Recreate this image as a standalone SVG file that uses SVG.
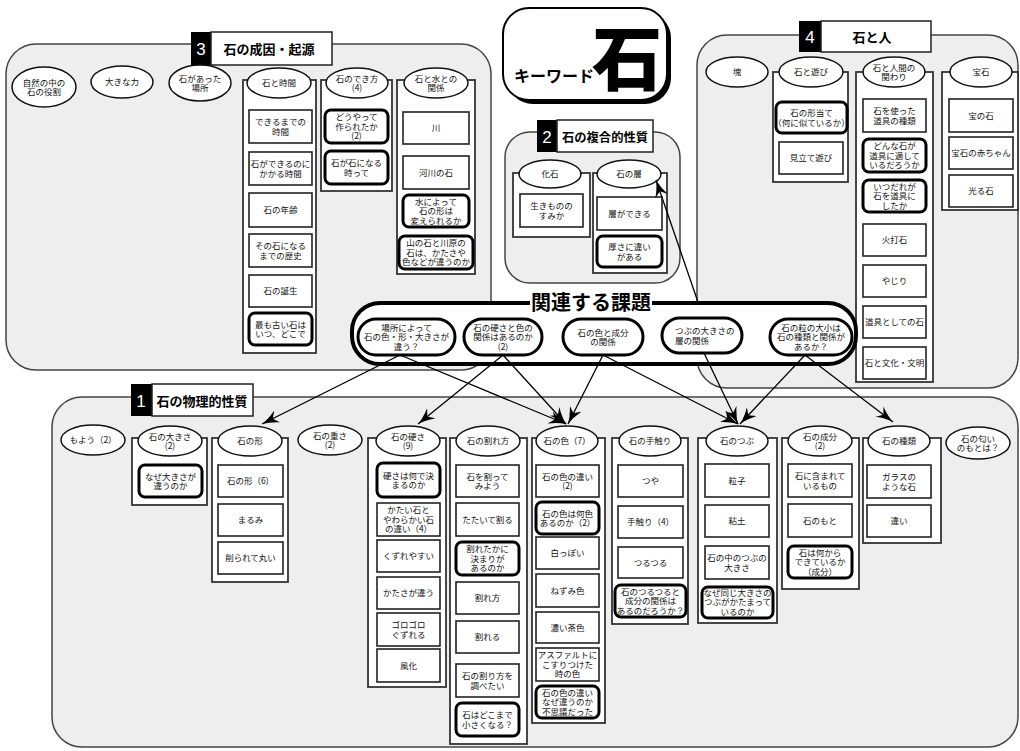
<svg xmlns="http://www.w3.org/2000/svg" width="1020" height="751" viewBox="0 0 1020 751">
<style>
.panel{fill:#eeeeee;stroke:#444;stroke-width:1.5}
.col{fill:#fff;stroke:#333;stroke-width:1.8}
.box{fill:#fff;stroke:#222;stroke-width:1.6}
.tbox{fill:#fff;stroke:#000;stroke-width:3}
.hd{fill:#fff;stroke:#111;stroke-width:1.5}
.ov{fill:#fff;stroke:#000;stroke-width:3}
.t{font-family:"Noto Sans CJK JP","Noto Sans",sans-serif;font-size:8.5px;text-anchor:middle;fill:#111}
.tl{font-family:"Noto Sans CJK JP","Noto Sans",sans-serif;font-size:8.5px;text-anchor:start;fill:#111}
.tabk{fill:#000}
.tabw{fill:#fff;stroke:#222;stroke-width:1.5}
.num{font-family:"Liberation Sans",sans-serif;font-size:17px;fill:#fff;text-anchor:middle}
.ttl{font-family:"Noto Sans CJK JP",sans-serif;font-size:13px;font-weight:bold;text-anchor:middle;fill:#000}
.conn{stroke:#000;stroke-width:1.3;fill:none;marker-end:url(#arr)}
</style>
<defs>
<marker id="arr" markerUnits="userSpaceOnUse" markerWidth="20" markerHeight="14" refX="17" refY="6.5" orient="auto">
<path d="M0,0 Q9,5 17,6.5 Q9,8 0,13 L5,6.5 Z" fill="#000"/>
</marker>
</defs>

<!-- Keyword -->
<g id="keyword">
<rect x="507" y="12" width="164" height="92" rx="26" fill="#000"/>
<rect x="503" y="8" width="164" height="92" rx="26" fill="#fff" stroke="#000" stroke-width="2"/>
<text x="514" y="82" font-family="Noto Sans CJK JP,sans-serif" font-size="16" font-weight="bold" fill="#000">キーワード</text>
<text x="592" y="85" font-family="Noto Sans CJK JP,sans-serif" font-size="70" font-weight="900" fill="#000">石</text>
</g>

<!-- Section 3 -->
<g id="sec3">
<rect class="panel" x="6" y="44" width="485" height="326" rx="30"/>
<rect class="tabk" x="191" y="32" width="20" height="33"/>
<rect class="tabw" x="211" y="32" width="121" height="33"/>
<text class="num" x="201" y="55">3</text>
<text class="ttl" x="269" y="54">石の成因・起源</text>
</g>
<g id="n3a"><ellipse class="hd" cx="44" cy="87" rx="32" ry="20"/><text class="t" x="44" y="85.5"><tspan x="44">自然の中の</tspan><tspan x="44" dy="9.5">石の役割</tspan></text></g>
<g id="n3b"><ellipse class="hd" cx="122" cy="82" rx="31" ry="16"/><text class="t" x="122" y="85">大きな力</text></g>
<g id="n3c"><ellipse class="hd" cx="200" cy="83" rx="31" ry="18"/><text class="t" x="200" y="81.5"><tspan x="200">石があった</tspan><tspan x="200" dy="9.5">場所</tspan></text></g>

<g id="c3time">
<rect class="col" x="243" y="80" width="73" height="273"/>
<ellipse class="hd" cx="279" cy="83" rx="32" ry="15"/><text class="t" x="279" y="86">石と時間</text>
<rect class="box" x="249" y="110" width="63" height="33"/><text class="t" x="280.5" y="125"><tspan x="280.5">できるまでの</tspan><tspan x="280.5" dy="9.5">時間</tspan></text>
<rect class="box" x="249" y="152" width="63" height="33"/><text class="t" x="280.5" y="167"><tspan x="280.5">石ができるのに</tspan><tspan x="280.5" dy="9.5">かかる時間</tspan></text>
<rect class="box" x="249" y="193" width="63" height="34"/><text class="t" x="280.5" y="213">石の年齢</text>
<rect class="box" x="249" y="234" width="63" height="33"/><text class="t" x="280.5" y="249"><tspan x="280.5">その石になる</tspan><tspan x="280.5" dy="9.5">までの歴史</tspan></text>
<rect class="box" x="249" y="275" width="63" height="32"/><text class="t" x="280.5" y="294">石の誕生</text>
<rect class="tbox" x="249" y="313" width="63" height="32" rx="6"/><text class="t" x="280.5" y="327.5"><tspan x="280.5">最も古い石は</tspan><tspan x="280.5" dy="9.5">いつ、どこで</tspan></text>
</g>
<g id="c3make">
<rect class="col" x="321" y="80" width="71" height="111"/>
<ellipse class="hd" cx="357" cy="83" rx="31" ry="15"/><text class="t" x="357" y="81.5"><tspan x="357">石のでき方</tspan><tspan x="357" dy="9.5">(4)</tspan></text>
<rect class="tbox" x="325" y="110" width="63" height="33" rx="6"/><text class="t" x="356.5" y="120.2"><tspan x="356.5">どうやって</tspan><tspan x="356.5" dy="9.5">作られたか</tspan><tspan x="356.5" dy="9.5">(2)</tspan></text>
<rect class="tbox" x="325" y="151" width="63" height="33" rx="6"/><text class="t" x="356.5" y="166"><tspan x="356.5">石が石になる</tspan><tspan x="356.5" dy="9.5">時って</tspan></text>
</g>
<g id="c3water">
<rect class="col" x="397" y="80" width="78" height="194"/>
<ellipse class="hd" cx="436" cy="83" rx="32" ry="15"/><text class="t" x="436" y="81.5"><tspan x="436">石と水との</tspan><tspan x="436" dy="9.5">関係</tspan></text>
<rect class="box" x="403" y="112" width="66" height="32"/><text class="t" x="436" y="131">川</text>
<rect class="box" x="403" y="156" width="66" height="33"/><text class="t" x="436" y="175.5">河川の石</text>
<rect class="tbox" x="403" y="195" width="66" height="32" rx="6"/><text class="t" x="436" y="204.7"><tspan x="436">水によって</tspan><tspan x="436" dy="9.5">石の形は</tspan><tspan x="436" dy="9.5">変えられるか</tspan></text>
<rect class="tbox" x="399" y="236" width="74" height="33" rx="6"/><text class="t" x="436" y="246.2"><tspan x="436">山の石と川原の</tspan><tspan x="436" dy="9.5">石は、かたさや</tspan><tspan x="436" dy="9.5">色などが違うのか</tspan></text>
</g>

<!-- Section 2 -->
<g id="sec2">
<rect class="panel" x="505" y="132" width="175" height="151" rx="25"/>
<rect class="tabk" x="537" y="120" width="20" height="32"/>
<rect class="tabw" x="557" y="120" width="96" height="32"/>
<text class="num" x="547" y="143">2</text>
<text class="ttl" x="605" y="141.5" style="font-size:12.3px">石の複合的性質</text>
</g>
<g id="c2fossil">
<rect class="col" x="513" y="173" width="77" height="64"/>
<ellipse class="hd" cx="550" cy="174" rx="31" ry="14"/><text class="t" x="550" y="177">化石</text>
<rect class="box" x="520" y="194" width="63" height="33"/><text class="t" x="551.5" y="209"><tspan x="551.5">生きものの</tspan><tspan x="551.5" dy="9.5">すみか</tspan></text>
</g>
<g id="c2layer">
<rect class="col" x="593" y="173" width="74" height="100"/>
<ellipse class="hd" cx="629" cy="174" rx="32" ry="14"/><text class="t" x="629" y="177">石の層</text>
<rect class="box" x="597" y="197" width="65" height="33"/><text class="t" x="629.5" y="216.5">層ができる</text>
<rect class="tbox" x="597" y="236" width="65" height="31" rx="6"/><text class="t" x="629.5" y="250"><tspan x="629.5">厚さに違い</tspan><tspan x="629.5" dy="9.5">がある</tspan></text>
</g>

<!-- Section 4 -->
<g id="sec4">
<rect class="panel" x="697" y="35" width="321" height="353" rx="30"/>
<rect class="tabk" x="799" y="21" width="22" height="31"/>
<rect class="tabw" x="821" y="21" width="110" height="31"/>
<text class="num" x="810" y="43">4</text>
<text class="ttl" x="872" y="42">石と人</text>
</g>
<g id="n4mass"><ellipse class="hd" cx="737" cy="72" rx="31" ry="15"/><text class="t" x="737" y="75">塊</text></g>
<g id="c4play">
<rect class="col" x="773" y="72" width="75" height="110"/>
<ellipse class="hd" cx="811" cy="72" rx="32" ry="15"/><text class="t" x="811" y="75">石と遊び</text>
<rect class="tbox" x="776" y="102" width="71" height="31" rx="6"/><text class="t" x="811.5" y="116"><tspan x="811.5">石の形当て</tspan><tspan x="811.5" dy="9.5">（何に似ているか）</tspan></text>
<rect class="box" x="779" y="142" width="64" height="32"/><text class="t" x="811" y="161">見立て遊び</text>
</g>
<g id="c4human">
<rect class="col" x="856" y="72" width="77" height="310"/>
<ellipse class="hd" cx="894" cy="72" rx="31" ry="15"/><text class="t" x="894" y="70.5"><tspan x="894">石と人間の</tspan><tspan x="894" dy="9.5">関わり</tspan></text>
<rect class="box" x="863" y="99" width="63" height="33"/><text class="t" x="894.5" y="114"><tspan x="894.5">石を使った</tspan><tspan x="894.5" dy="9.5">道具の種類</tspan></text>
<rect class="tbox" x="863" y="139" width="63" height="33" rx="6"/><text class="t" x="894.5" y="149.2"><tspan x="894.5">どんな石が</tspan><tspan x="894.5" dy="9.5">道具に適して</tspan><tspan x="894.5" dy="9.5">いるだろうか</tspan></text>
<rect class="tbox" x="863" y="180" width="63" height="32" rx="6"/><text class="t" x="894.5" y="189.7"><tspan x="894.5">いつだれが</tspan><tspan x="894.5" dy="9.5">石を道具に</tspan><tspan x="894.5" dy="9.5">したか</tspan></text>
<rect class="box" x="863" y="224" width="63" height="32"/><text class="t" x="894.5" y="243">火打石</text>
<rect class="box" x="863" y="265" width="63" height="32"/><text class="t" x="894.5" y="284">やじり</text>
<rect class="box" x="863" y="306" width="63" height="32"/><text class="t" x="894.5" y="325">道具としての石</text>
<rect class="box" x="863" y="347" width="63" height="32"/><text class="t" x="894.5" y="366">石と文化・文明</text>
</g>
<g id="c4gem">
<rect class="col" x="942" y="72" width="76" height="138"/>
<ellipse class="hd" cx="981" cy="72" rx="31" ry="15"/><text class="t" x="981" y="75">宝石</text>
<rect class="box" x="949" y="99" width="64" height="33"/><text class="t" x="981" y="118.5">宝の石</text>
<rect class="box" x="949" y="137" width="64" height="32"/><text class="t" x="981" y="156">宝石の赤ちゃん</text>
<rect class="box" x="949" y="175" width="64" height="32"/><text class="t" x="981" y="194">光る石</text>
</g>

<!-- Section 1 -->
<g id="sec1">
<rect class="panel" x="52" y="397" width="966" height="350" rx="30"/>
<rect class="tabk" x="131" y="384" width="21" height="32"/>
<rect class="tabw" x="152" y="384" width="101" height="32"/>
<text class="num" x="141" y="407">1</text>
<text class="ttl" x="202" y="405.5">石の物理的性質</text>
</g>
<g id="n1pattern"><ellipse class="hd" cx="93" cy="440" rx="32" ry="15"/><text class="t" x="93" y="443">もよう（2）</text></g>
<g id="n1weight"><ellipse class="hd" cx="330" cy="440" rx="32" ry="15"/><text class="t" x="330" y="438.5"><tspan x="330">石の重さ</tspan><tspan x="330" dy="9.5">(2)</tspan></text></g>
<g id="n1smell"><ellipse class="hd" cx="978" cy="443" rx="32" ry="16"/><text class="t" x="978" y="441.5"><tspan x="978">石の匂い</tspan><tspan x="978" dy="9.5">のもとは？</tspan></text></g>

<g id="c1size">
<rect class="col" x="132" y="438" width="75" height="67"/>
<ellipse class="hd" cx="170" cy="441" rx="32" ry="15"/><text class="t" x="170" y="439.5"><tspan x="170">石の大きさ</tspan><tspan x="170" dy="9.5">(2)</tspan></text>
<rect class="tbox" x="139" y="465" width="63" height="32" rx="6"/><text class="t" x="170.5" y="479.5"><tspan x="170.5">なぜ大きさが</tspan><tspan x="170.5" dy="9.5">違うのか</tspan></text>
</g>
<g id="c1shape">
<rect class="col" x="212" y="438" width="76" height="144"/>
<ellipse class="hd" cx="250" cy="441" rx="32" ry="15"/><text class="t" x="250" y="444">石の形</text>
<rect class="box" x="218" y="465" width="65" height="32"/><text class="t" x="250.5" y="484">石の形（6）</text>
<rect class="box" x="218" y="504" width="65" height="32"/><text class="t" x="250.5" y="523">まるみ</text>
<rect class="box" x="218" y="542" width="65" height="32"/><text class="t" x="250.5" y="561">削られて丸い</text>
</g>
<g id="c1hard">
<rect class="col" x="368" y="438" width="78" height="249"/>
<ellipse class="hd" cx="408" cy="441" rx="32" ry="15"/><text class="t" x="408" y="439.5"><tspan x="408">石の硬さ</tspan><tspan x="408" dy="9.5">(9)</tspan></text>
<rect class="tbox" x="377" y="463" width="63" height="34" rx="6"/><text class="t" x="408.5" y="478.5"><tspan x="408.5">硬さは何で決</tspan><tspan x="408.5" dy="9.5">まるのか</tspan></text>
<rect class="box" x="377" y="503" width="63" height="33"/><text class="t" x="408.5" y="513.2"><tspan x="408.5">かたい石と</tspan><tspan x="408.5" dy="9.5">やわらかい石</tspan><tspan x="408.5" dy="9.5">の違い（4）</tspan></text>
<rect class="box" x="377" y="540" width="63" height="32"/><text class="t" x="408.5" y="559">くずれやすい</text>
<rect class="box" x="377" y="577" width="63" height="32"/><text class="t" x="408.5" y="596">かたさが違う</text>
<rect class="box" x="377" y="613" width="63" height="33"/><text class="t" x="408.5" y="628"><tspan x="408.5">ゴロゴロ</tspan><tspan x="408.5" dy="9.5">ぐずれる</tspan></text>
<rect class="box" x="377" y="649" width="63" height="33"/><text class="t" x="408.5" y="668.5">風化</text>
</g>
<g id="c1break">
<rect class="col" x="450" y="438" width="77" height="306"/>
<ellipse class="hd" cx="488" cy="441" rx="32" ry="15"/><text class="t" x="488" y="444">石の割れ方</text>
<rect class="box" x="456" y="465" width="63" height="32"/><text class="t" x="487.5" y="479.5"><tspan x="487.5">石を割って</tspan><tspan x="487.5" dy="9.5">みよう</tspan></text>
<rect class="box" x="456" y="503" width="63" height="33"/><text class="t" x="487.5" y="522.5">たたいて割る</text>
<rect class="tbox" x="456" y="542" width="63" height="33" rx="6"/><text class="t" x="487.5" y="552.2"><tspan x="487.5">割れたかに</tspan><tspan x="487.5" dy="9.5">決まりが</tspan><tspan x="487.5" dy="9.5">あるのか</tspan></text>
<rect class="box" x="456" y="582" width="63" height="32"/><text class="t" x="487.5" y="601">割れ方</text>
<rect class="box" x="456" y="621" width="63" height="32"/><text class="t" x="487.5" y="640">割れる</text>
<rect class="box" x="456" y="664" width="63" height="33"/><text class="t" x="487.5" y="679"><tspan x="487.5">石の割り方を</tspan><tspan x="487.5" dy="9.5">調べたい</tspan></text>
<rect class="tbox" x="456" y="703" width="63" height="33" rx="6"/><text class="t" x="487.5" y="718"><tspan x="487.5">石はどこまで</tspan><tspan x="487.5" dy="9.5">小さくなる？</tspan></text>
</g>
<g id="c1color">
<rect class="col" x="532" y="438" width="73" height="285"/>
<ellipse class="hd" cx="567" cy="441" rx="31" ry="15"/><text class="t" x="567" y="444">石の色（7）</text>
<rect class="box" x="536" y="465" width="63" height="32"/><text class="t" x="567.5" y="479.5"><tspan x="567.5">石の色の違い</tspan><tspan x="567.5" dy="9.5">(2)</tspan></text>
<rect class="tbox" x="536" y="502" width="63" height="32" rx="6"/><text class="t" x="567.5" y="516.5"><tspan x="567.5">石の色は何色</tspan><tspan x="567.5" dy="9.5">あるのか（2）</tspan></text>
<rect class="box" x="536" y="537" width="63" height="32"/><text class="t" x="567.5" y="556">白っぽい</text>
<rect class="box" x="536" y="574" width="63" height="33"/><text class="t" x="567.5" y="593.5">ねずみ色</text>
<rect class="box" x="536" y="612" width="63" height="31"/><text class="t" x="567.5" y="630.5">濃い茶色</text>
<rect class="box" x="536" y="648" width="63" height="33"/><text class="t" x="567.5" y="658.2"><tspan x="567.5">アスファルトに</tspan><tspan x="567.5" dy="9.5">こすりつけた</tspan><tspan x="567.5" dy="9.5">時の色</tspan></text>
<rect class="tbox" x="536" y="686" width="63" height="32" rx="6"/><text class="t" x="567.5" y="695.7"><tspan x="567.5">石の色の違い</tspan><tspan x="567.5" dy="9.5">なぜ違うのか</tspan><tspan x="567.5" dy="9.5">不思議だった</tspan></text>
</g>
<g id="c1touch">
<rect class="col" x="612" y="438" width="76" height="186"/>
<ellipse class="hd" cx="650" cy="441" rx="31" ry="15"/><text class="t" x="650" y="444">石の手触り</text>
<rect class="box" x="618" y="465" width="65" height="32"/><text class="t" x="650.5" y="484">つや</text>
<rect class="box" x="618" y="506" width="65" height="32"/><text class="t" x="650.5" y="525">手触り（4）</text>
<rect class="box" x="618" y="547" width="65" height="31"/><text class="t" x="650.5" y="565.5">つるつる</text>
<rect class="tbox" x="615" y="585" width="71" height="32" rx="6"/><text class="t" x="650.5" y="594.7"><tspan x="650.5">石のつるつると</tspan><tspan x="650.5" dy="9.5">成分の関係は</tspan><tspan x="650.5" dy="9.5">あるのだろうか？</tspan></text>
</g>
<g id="c1grain">
<rect class="col" x="698" y="438" width="79" height="185"/>
<ellipse class="hd" cx="737" cy="441" rx="31" ry="15"/><text class="t" x="737" y="444">石のつぶ</text>
<rect class="box" x="705" y="464" width="64" height="33"/><text class="t" x="737" y="483.5">粒子</text>
<rect class="box" x="705" y="505" width="64" height="32"/><text class="t" x="737" y="524">粘土</text>
<rect class="box" x="705" y="546" width="64" height="33"/><text class="t" x="737" y="561"><tspan x="737">石の中のつぶの</tspan><tspan x="737" dy="9.5">大きさ</tspan></text>
<rect class="tbox" x="702" y="587" width="71" height="31" rx="6"/><text class="t" x="737.5" y="595.7"><tspan x="737.5">なぜ同じ大きさの</tspan><tspan x="737.5" dy="9.5">つぶがかたまって</tspan><tspan x="737.5" dy="9.5">いるのか</tspan></text>
</g>
<g id="c1comp">
<rect class="col" x="782" y="438" width="77" height="151"/>
<ellipse class="hd" cx="820" cy="441" rx="32" ry="15"/><text class="t" x="820" y="439.5"><tspan x="820">石の成分</tspan><tspan x="820" dy="9.5">(2)</tspan></text>
<rect class="box" x="788" y="464" width="64" height="33"/><text class="t" x="820" y="479"><tspan x="820">石に含まれて</tspan><tspan x="820" dy="9.5">いるもの</tspan></text>
<rect class="box" x="788" y="504" width="64" height="33"/><text class="t" x="820" y="523.5">石のもと</text>
<rect class="tbox" x="788" y="546" width="64" height="32" rx="6"/><text class="t" x="820" y="555.7"><tspan x="820">石は何から</tspan><tspan x="820" dy="9.5">できているか</tspan><tspan x="820" dy="9.5">（成分）</tspan></text>
</g>
<g id="c1kind">
<rect class="col" x="863" y="438" width="78" height="105"/>
<ellipse class="hd" cx="899" cy="441" rx="31" ry="15"/><text class="t" x="899" y="444">石の種類</text>
<rect class="box" x="867" y="465" width="64" height="33"/><text class="t" x="899" y="480"><tspan x="899">ガラスの</tspan><tspan x="899" dy="9.5">ような石</tspan></text>
<rect class="box" x="867" y="505" width="64" height="32"/><text class="t" x="899" y="524">違い</text>
</g>

<!-- Related topics -->
<g id="related">
<rect x="352" y="303" width="504" height="61" rx="28" fill="#fff" stroke="#000" stroke-width="4"/>
<rect x="530" y="296" width="122" height="14" fill="#fff"/>
<text x="591" y="310" font-family="Noto Sans CJK JP,sans-serif" font-size="20" font-weight="bold" text-anchor="middle" fill="#000">関連する課題</text>
</g>
<g id="r1"><rect class="ov" x="358" y="319" width="97" height="36" rx="18"/><text class="t" x="406.5" y="330.7"><tspan x="406.5">場所によって</tspan><tspan x="406.5" dy="9.5">石の色・形・大きさが</tspan><tspan x="406.5" dy="9.5">違う？</tspan></text></g>
<g id="r2"><rect class="ov" x="464" y="319" width="78" height="36" rx="18"/><text class="t" x="503" y="330.7"><tspan x="503">石の硬さと色の</tspan><tspan x="503" dy="9.5">関係はあるのか</tspan><tspan x="503" dy="9.5">(2)</tspan></text></g>
<g id="r3"><rect class="ov" x="563" y="319" width="80" height="36" rx="18"/><text class="t" x="603" y="335.5"><tspan x="603">石の色と成分</tspan><tspan x="603" dy="9.5">の関係</tspan></text></g>
<g id="r4"><rect class="ov" x="662" y="318" width="80" height="35" rx="17.5"/><text class="tl" x="675" y="334"><tspan x="675">つぶの大きさの</tspan><tspan x="675" dy="9.5">層の関係</tspan></text></g>
<g id="r5"><rect class="ov" x="770" y="319" width="82" height="36" rx="18"/><text class="t" x="811" y="330.7"><tspan x="811">石の粒の大小は</tspan><tspan x="811" dy="9.5">石の種類と関係が</tspan><tspan x="811" dy="9.5">あるか？</tspan></text></g>

<!-- Connectors -->
<g id="connectors">
<line class="conn" x1="400" y1="355" x2="262" y2="424"/>
<line class="conn" x1="400" y1="355" x2="566" y2="424"/>
<line class="conn" x1="503" y1="355" x2="418" y2="424"/>
<line class="conn" x1="503" y1="355" x2="566" y2="424"/>
<line class="conn" x1="603" y1="355" x2="568" y2="424"/>
<line class="conn" x1="603" y1="355" x2="738" y2="424"/>
<line class="conn" x1="699" y1="305" x2="656" y2="180"/>
<line class="conn" x1="704" y1="353" x2="738" y2="424"/>
<line class="conn" x1="805" y1="355" x2="740" y2="424"/>
<line class="conn" x1="805" y1="355" x2="893" y2="422"/>
</g>
</svg>
